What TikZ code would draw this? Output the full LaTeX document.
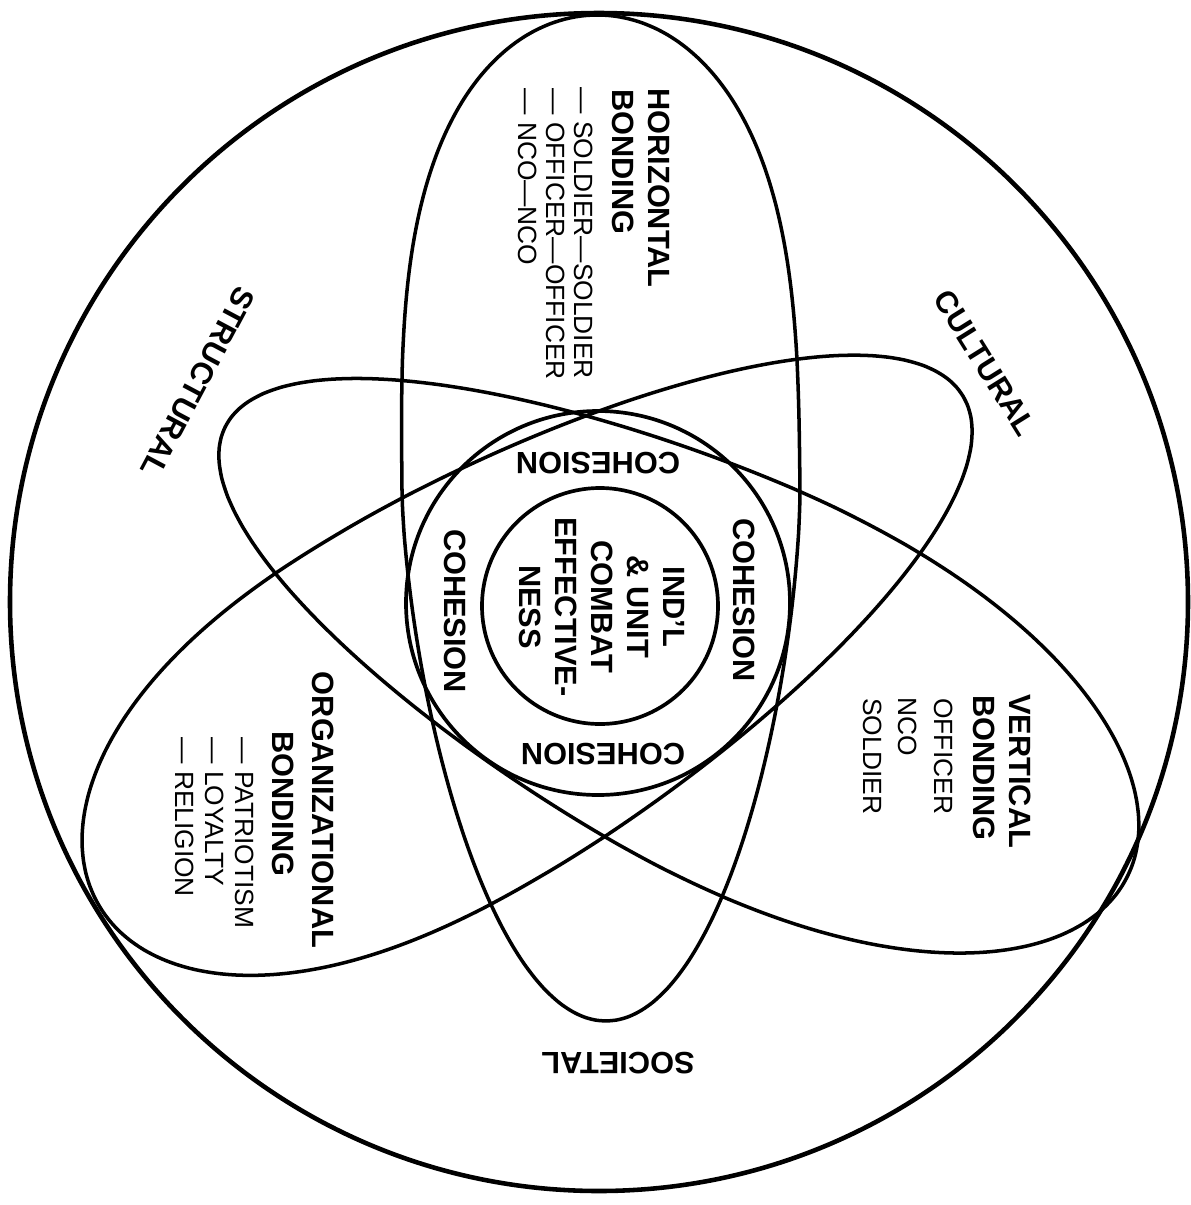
\documentclass[tikz,border=0pt]{standalone}
\usepackage{fontspec}
\setmainfont{Liberation Sans}
% egg-shaped loop: centre x, centre y, angle of broad end, broad half-length,
% broad exponent, narrow half-length, narrow exponent, half-width
\newcommand{\drawegg}[8]{%
  \begin{scope}[shift={(#1,#2)}, rotate=#3]
    \draw[loop] plot[domain=-90:90, samples=121, smooth, variable=\t]
      ({#4*pow(max(abs(cos(\t)),0.0001),2/#5)}, {#8*sin(\t)})
      -- plot[domain=90:270, samples=121, smooth, variable=\t]
      ({-#6*pow(max(abs(cos(\t)),0.0001),2/#7)}, {#8*sin(\t)}) -- cycle;
  \end{scope}}
\begin{document}
\begin{tikzpicture}[x=0.02cm,y=-0.02cm,
  loop/.style={line width=2pt, line join=round},
  ring/.style={line width=2.1pt},
  boldtxt/.style={font=\bfseries\fontsize{17.5}{20.5}\selectfont, inner sep=0pt},
  plaintxt/.style={font=\fontsize{15}{18}\selectfont, inner sep=0pt}]
\useasboundingbox (0,0) rectangle (1191,1205);
% outer circle
\draw[line width=2.6pt] (599,602) circle[radius=589];
% the three loops
\drawegg{601}{490}{90.6}{475}{3.1}{531}{1.6}{199}
\drawegg{755}{691}{-26.5}{416}{2.2}{592}{1.7}{200}
\drawegg{448}{700}{210.5}{405}{2.4}{598}{1.8}{199}
% cohesion rings
\draw[ring] (598,603) circle[radius=192];
\draw[ring] (600,606) circle[radius=118];

% labels
\node[boldtxt, rotate=-90, anchor=base west] (hz1) at (648,88) {HORIZONTAL};
\node[boldtxt, rotate=-90, anchor=base west] (hz2) at (612,89) {BONDING};
\node[plaintxt, rotate=-90, anchor=base west] (hz3) at (574,87) {— SOLDIER—SOLDIER};
\node[plaintxt, rotate=-90, anchor=base west] (hz4) at (546,88) {— OFFICER—OFFICER};
\node[plaintxt, rotate=-90, anchor=base west] (hz5) at (518,88) {— NCO—NCO};

\node[boldtxt, rotate=-90, anchor=base west] (vb1) at (1009,694) {VERTICAL};
\node[boldtxt, rotate=-90, anchor=base west] (vb2) at (973,695) {BONDING};
\node[plaintxt, rotate=-90, anchor=base west] (vb3) at (934,698) {OFFICER};
\node[plaintxt, rotate=-90, anchor=base west] (vb4) at (898,697) {NCO};
\node[plaintxt, rotate=-90, anchor=base west] (vb5) at (863,698) {SOLDIER};

\node[boldtxt, rotate=-90, anchor=base] (ob1) at (312,810) {ORGANIZATIONAL};
\node[boldtxt, rotate=-90, anchor=base] (ob2) at (272,804) {BONDING};
\node[plaintxt, rotate=-90, anchor=base west] (ob3) at (235,737) {— PATRIOTISM};
\node[plaintxt, rotate=-90, anchor=base west] (ob4) at (205,737) {— LOYALTY};
\node[plaintxt, rotate=-90, anchor=base west] (ob5) at (175,737) {— RELIGION};

\node[boldtxt, rotate=-118] (struct) at (198,382) {STRUCTURAL};
\node[boldtxt, rotate=-58] (cult) at (985,363) {CULTURAL};
\node[boldtxt, rotate=180] (soc) at (618,1063) {SOCIETAL};

\node[boldtxt, rotate=180] (coht) at (598,463) {COHESION};
\node[boldtxt, rotate=180] (cohb) at (603,754) {COHESION};
\node[boldtxt, rotate=-90] (cohl) at (455,611) {COHESION};
\node[boldtxt, rotate=-90] (cohr) at (744,600) {COHESION};

\node[boldtxt, rotate=-90, align=center] (core) at (602,607)
  {IND’L\\\& UNIT\\COMBAT\\EFFECTIVE-\\NESS};
\end{tikzpicture}
\end{document}
